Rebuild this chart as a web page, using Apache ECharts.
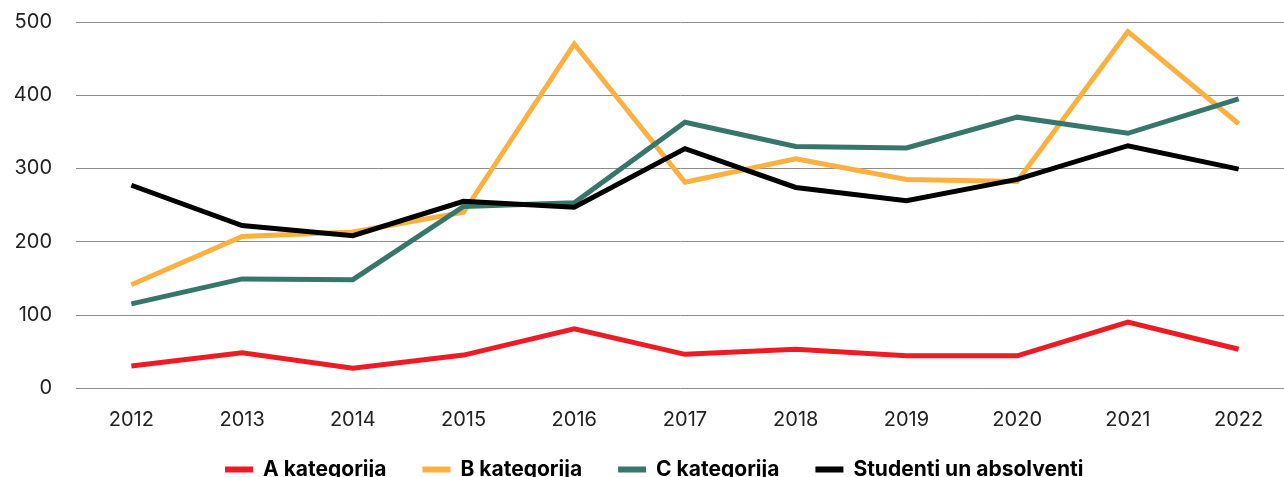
<!DOCTYPE html>
<html>
<head>
<meta charset="utf-8">
<script src="https://cdn.jsdelivr.net/npm/echarts@6/dist/echarts.min.js"></script>
<style>
  html, body { margin: 0; padding: 0; background: #fff; }
  #chart { width: 1284px; height: 477px; }
</style>
</head>
<body>
<div id="chart"></div>
<script>
// dati
let years = ['2012', '2013', '2014', '2015', '2016', '2017', '2018', '2019', '2020', '2021', '2022']
let aKat = [30, 48, 27, 45, 81, 46, 53, 44, 44, 90, 53]
let bKat = [141, 207, 213, 240, 470, 281, 313, 285, 282, 487, 361]
let cKat = [115, 149, 148, 248, 253, 363, 330, 328, 370, 348, 395]
let studenti = [277, 222, 208, 255, 247, 327, 274, 256, 285, 331, 299]
let yTicks = [0, 100, 200, 300, 400, 500]

let names = ['A kategorija', 'B kategorija', 'C kategorija', 'Studenti un absolventi']
let colors = ['#ed1c24', '#fbb040', '#37776b', '#000000']
let values = [aKat, bKat, cKat, studenti]

let myChart = echarts.init(document.getElementById('chart'))

let option = {
    animation: false,
    color: colors,
    // grid iet mazliet pāri labajai malai, kā oriģinālā
    grid: { left: 76, width: 1218, top: 22, bottom: 89, outerBoundsMode: 'none', containLabel: false },
    legend: {
        data: names,
        left: 225,
        top: 459,
        padding: 0,
        icon: 'rect',
        itemWidth: 28,
        itemHeight: 6,
        itemGap: 36,
        textStyle: {
            fontFamily: 'Inter, sans-serif',
            fontWeight: 'bold',
            fontSize: 21,
            color: '#000',
            padding: [0, 0, 0, 5]
        }
    },
    xAxis: {
        type: 'category',
        data: years,
        boundaryGap: true,
        axisLine: { show: false },
        axisTick: { show: false },
        axisLabel: {
            margin: 22,
            fontFamily: 'Inter, sans-serif',
            fontSize: 20,
            color: '#222'
        }
    },
    yAxis: {
        type: 'value',
        min: yTicks[0],
        max: yTicks[yTicks.length - 1],
        interval: 100,
        axisLine: { show: false },
        axisTick: { show: false },
        splitLine: { lineStyle: { color: '#8c8c8c', width: 1 } },
        axisLabel: {
            margin: 24,
            fontFamily: 'Inter, sans-serif',
            fontSize: 20,
            color: '#222'
        }
    },
    series: names.map(function (n, i) {
        return {
            name: n,
            type: 'line',
            data: values[i],
            symbol: 'none',
            lineStyle: { width: 5, color: colors[i], cap: 'butt', join: 'miter' }
        }
    })
}
myChart.setOption(option)
</script>
</body>
</html>
